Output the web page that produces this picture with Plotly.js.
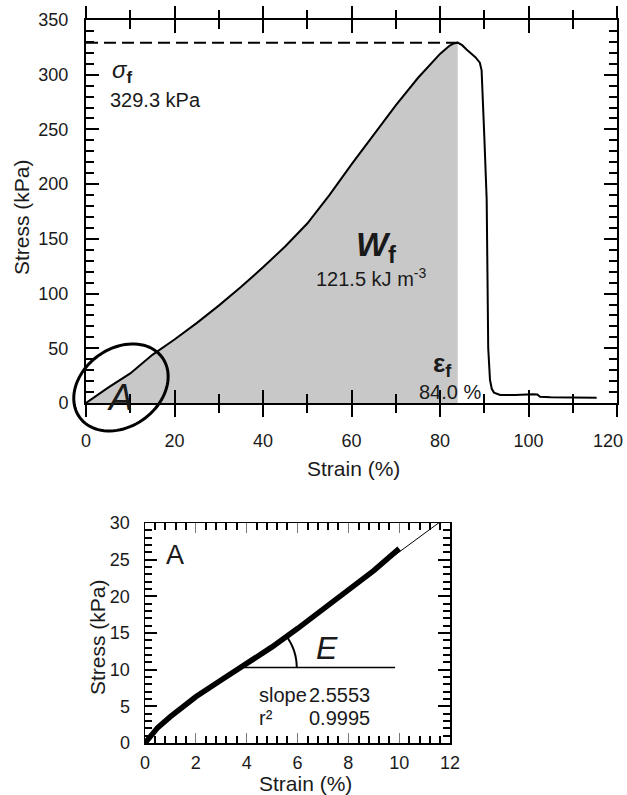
<!DOCTYPE html>
<html><head><meta charset="utf-8">
<script src="https://cdn.plot.ly/plotly-3.0.1.min.js"></script>
<style>html,body{margin:0;padding:0;background:#fff}</style>
</head><body><div id="chart" style="width:627px;height:795px"></div>
<script>
// ---- Data ----
const strain = [0, 5, 10, 15, 20, 25, 30, 35, 40, 45, 50, 55, 60, 65, 70, 75, 78, 80, 82, 83, 84, 85, 86, 88, 89, 89.4, 90.0, 90.55, 90.9, 91.3, 91.7, 92.2, 93.6, 97, 101, 102, 102.6, 105, 110, 115.4];
const stress = [0, 14, 27, 44, 58, 73, 89, 106, 124, 143, 164, 190, 218, 245, 272, 297, 310, 319, 326, 328.5, 329.3, 327, 323, 316, 311, 304, 245, 186, 50, 21, 13, 9.5, 7.3, 7.2, 7.9, 7.8, 5.8, 5.2, 5.0, 4.9];
const failStrain = 84.0;   // %
const failStress = 329.3;  // kPa

const inStrain = [0, 0.25, 0.5, 1, 1.5, 2, 3, 4, 5, 6, 7, 8, 9, 9.5, 10];
const inStress = [0, 1.2, 2.1, 3.6, 5.0, 6.3, 8.6, 10.8, 13.1, 15.6, 18.2, 20.8, 23.5, 25.0, 26.5];
const fitSlope = 2.5553;
const fitIntercept = 0.49;
const fitR2 = 0.9995;
const fitX = [3.9, 12];
const angleStrain = 3.9, angleStress = 10.3, angleLineEnd = 9.84;

const topXTickVals = [0, 20, 40, 60, 80, 100, 120];
const topXTickText = ['0', '20', '40', '60', '80', '100', '120'];

// ---- Layout geometry (pixels) ----
const W = 627, H = 795;
const topP = {l: 86, r: 617, t: 20, b: 403, xr: [0, 120], yr: [0, 350]};
const botP = {l: 145, r: 450, t: 523, b: 743, xr: [0, 12], yr: [0, 30]};
const FONT = '"Liberation Sans", Arial, sans-serif';
const TXT = '#1a1a1a';

function dom(p) {
  return {x: [p.l / W, p.r / W], y: [1 - p.b / H, 1 - p.t / H]};
}
const dTop = dom(topP), dBot = dom(botP);
function pxPerX(p) { return (p.r - p.l) / (p.xr[1] - p.xr[0]); }
function pxPerY(p) { return (p.b - p.t) / (p.yr[1] - p.yr[0]); }

function ellipsePaperPath(p, cx, cy, a, b, deg) {
  const th = deg * Math.PI / 180;
  const pcx = p.l + (cx - p.xr[0]) * pxPerX(p);
  const pcy = p.b - (cy - p.yr[0]) * pxPerY(p);
  let d = '';
  for (let i = 0; i <= 90; i++) {
    const t = i / 90 * 2 * Math.PI;
    const dx = a * Math.cos(th) * Math.cos(t) - b * Math.sin(th) * Math.sin(t);
    const dy = a * Math.sin(th) * Math.cos(t) + b * Math.cos(th) * Math.sin(t);
    d += (i ? ' L ' : 'M ') + ((pcx + dx) / W).toFixed(5) + ',' + (1 - (pcy - dy) / H).toFixed(5);
  }
  return d + ' Z';
}
function arcPath(p, cx, cy, r, deg0, deg1) {
  const sx = pxPerX(p), sy = pxPerY(p);
  let d = '';
  for (let i = 0; i <= 30; i++) {
    const t = (deg0 + (deg1 - deg0) * i / 30) * Math.PI / 180;
    d += (i ? ' L ' : 'M ') + (cx + r * Math.cos(t) / sx).toFixed(4) + ',' + (cy + r * Math.sin(t) / sy).toFixed(4);
  }
  return d;
}

const fillX = [], fillY = [];
strain.forEach((s, i) => { if (s <= failStrain) { fillX.push(s); fillY.push(stress[i]); } });

const fitY = fitX.map(x => fitSlope * x + fitIntercept);
const fitAngle = Math.atan(fitSlope * pxPerY(botP) / pxPerX(botP)) * 180 / Math.PI;

// the last bottom label sits at the page edge: draw it right-aligned so it stays inside
const lastIdx = topXTickVals.length - 1;
const axisTickText = topXTickText.map((t, i) => i === lastIdx ? '' : t);

const traces = [
  {x: fillX, y: fillY, xaxis: 'x', yaxis: 'y', type: 'scatter', mode: 'lines', fill: 'tozeroy',
   fillcolor: '#c8c8c8', line: {width: 0, color: 'rgba(0,0,0,0)'}},
  {x: strain, y: stress, xaxis: 'x', yaxis: 'y', type: 'scatter', mode: 'lines',
   line: {color: '#000', width: 2}},
  {x: [], y: [], xaxis: 'x3', yaxis: 'y3', type: 'scatter', mode: 'lines'},
  {x: [], y: [], xaxis: 'x4', yaxis: 'y4', type: 'scatter', mode: 'lines'},
  {x: fitX, y: fitY, xaxis: 'x2', yaxis: 'y2', type: 'scatter', mode: 'lines',
   line: {color: '#000', width: 1}},
  {x: inStrain, y: inStress, xaxis: 'x2', yaxis: 'y2', type: 'scatter', mode: 'lines',
   line: {color: '#000', width: 5.5}}
];

const tf = {family: FONT, size: 18, color: TXT};
const base = {showgrid: false, zeroline: false, showline: true, linecolor: '#000', mirror: 'ticks', ticklabeloverflow: 'allow'};
const layout = {
  width: W, height: H, margin: {l: 0, r: 0, t: 0, b: 0},
  paper_bgcolor: '#fff', plot_bgcolor: 'rgba(0,0,0,0)', showlegend: false,
  font: {family: FONT, color: TXT},
  xaxis: Object.assign({}, base, {domain: dTop.x, anchor: 'y', range: topP.xr, linewidth: 2,
    ticks: 'inside', tickmode: 'array', tickvals: topXTickVals, ticktext: axisTickText,
    ticklen: 13, tickwidth: 2, tickcolor: '#000',
    minor: {dtick: 10, tick0: 0, ticks: 'inside', ticklen: 9, tickwidth: 2, tickcolor: '#000', showgrid: false},
    tickfont: tf, ticklabelstandoff: 20}),
  yaxis: Object.assign({}, base, {domain: dTop.y, anchor: 'x', range: topP.yr, linewidth: 2,
    ticks: 'inside', dtick: 50, tick0: 0, ticklen: 13, tickwidth: 2, tickcolor: '#000',
    minor: {dtick: 10, ticks: 'inside', ticklen: 8, tickwidth: 2, tickcolor: '#000', showgrid: false},
    tickfont: tf, ticklabelstandoff: 12}),
  xaxis3: Object.assign({}, base, {domain: dTop.x, anchor: 'y3', side: 'top', range: topP.xr, linewidth: 2,
    showticklabels: false, ticks: 'outside', dtick: 20, tick0: 0, ticklen: 12, tickwidth: 2, tickcolor: '#000',
    minor: {dtick: 10, ticks: 'outside', ticklen: 8, tickwidth: 2, tickcolor: '#000', showgrid: false}}),
  yaxis3: Object.assign({}, base, {domain: dTop.y, anchor: 'x3', side: 'right', range: topP.yr, linewidth: 2,
    showticklabels: false, ticks: 'inside', dtick: 50, tick0: 0, ticklen: 13, tickwidth: 2, tickcolor: '#000',
    minor: {dtick: 10, ticks: 'inside', ticklen: 8, tickwidth: 2, tickcolor: '#000', showgrid: false}}),
  xaxis2: Object.assign({}, base, {domain: dBot.x, anchor: 'y2', range: botP.xr, linewidth: 1.5,
    ticks: 'inside', dtick: 2, tick0: 0, ticklen: 10, tickwidth: 1, tickcolor: '#777',
    minor: {dtick: 0.4, ticks: 'inside', ticklen: 7, tickwidth: 2, tickcolor: '#000', showgrid: false},
    tickfont: tf, ticklabelstandoff: 3}),
  yaxis2: Object.assign({}, base, {domain: dBot.y, anchor: 'x2', range: botP.yr, linewidth: 1.5,
    ticks: 'inside', dtick: 5, tick0: 0, ticklen: 12, tickwidth: 2, tickcolor: '#000',
    minor: {dtick: 1, ticks: 'inside', ticklen: 7, tickwidth: 2, tickcolor: '#000', showgrid: false},
    tickfont: tf, ticklabelstandoff: 10}),
  xaxis4: Object.assign({}, base, {domain: dBot.x, anchor: 'y4', side: 'top', range: botP.xr, linewidth: 1.5,
    showticklabels: false, ticks: 'inside', dtick: 2, tick0: 0, ticklen: 10, tickwidth: 1, tickcolor: '#777',
    minor: {dtick: 0.4, ticks: 'inside', ticklen: 7, tickwidth: 2, tickcolor: '#000', showgrid: false}}),
  yaxis4: Object.assign({}, base, {domain: dBot.y, anchor: 'x4', side: 'right', range: botP.yr, linewidth: 1.5,
    showticklabels: false, ticks: 'inside', dtick: 5, tick0: 0, ticklen: 12, tickwidth: 2, tickcolor: '#000',
    minor: {dtick: 1, ticks: 'inside', ticklen: 7, tickwidth: 2, tickcolor: '#000', showgrid: false}}),
  shapes: [
    {type: 'line', xref: 'x', yref: 'y', x0: 0, x1: failStrain, y0: failStress, y1: failStress,
     line: {color: '#000', width: 2, dash: '12px,6px'}},
    {type: 'path', xref: 'paper', yref: 'paper', path: ellipsePaperPath(topP, 7.9, 14.2, 51, 39, 36),
     line: {color: '#000', width: 3}},
    {type: 'line', xref: 'x2', yref: 'y2', x0: angleStrain, x1: angleLineEnd, y0: angleStress, y1: angleStress,
     line: {color: '#000', width: 1.5}},
    {type: 'path', xref: 'x2', yref: 'y2', path: arcPath(botP, angleStrain, angleStress, 52.6, 0, fitAngle),
     line: {color: '#000', width: 2}}
  ],
  annotations: [
    {xref: 'paper', yref: 'paper', x: 625 / W, y: 1 - 441 / H, text: topXTickText[lastIdx], showarrow: false,
     font: tf, xanchor: 'right', yanchor: 'middle'},
    {xref: 'paper', yref: 'paper', x: 354 / W, y: 1 - 468 / H, text: 'Strain (%)', showarrow: false,
     font: {size: 21, family: FONT, color: TXT}, xanchor: 'center', yanchor: 'middle'},
    {xref: 'paper', yref: 'paper', x: 22 / W, y: 1 - 217 / H, text: 'Stress (kPa)', showarrow: false,
     textangle: -90, font: {size: 21, family: FONT, color: TXT}, xanchor: 'center', yanchor: 'middle'},
    {xref: 'paper', yref: 'paper', x: 305 / W, y: 1 - 783 / H, text: 'Strain (%)', showarrow: false,
     font: {size: 21, family: FONT, color: TXT}, xanchor: 'center', yanchor: 'middle'},
    {xref: 'paper', yref: 'paper', x: 97 / W, y: 1 - 637 / H, text: 'Stress (kPa)', showarrow: false,
     textangle: -90, font: {size: 21, family: FONT, color: TXT}, xanchor: 'center', yanchor: 'middle'},
    {xref: 'x', yref: 'y', x: 5.4, y: 303, text: '<i>σ</i><b><sub>f</sub></b>', showarrow: false,
     font: {size: 24, family: FONT, color: TXT}, xanchor: 'left', yanchor: 'middle'},
    {xref: 'x', yref: 'y', x: 4.9, y: 277, text: '329.3 kPa', showarrow: false,
     font: {size: 20, family: FONT, color: TXT}, xanchor: 'left', yanchor: 'middle'},
    {xref: 'x', yref: 'y', x: 65.5, y: 143, text: '<b><i>W</i><sub>f</sub></b>', showarrow: false,
     font: {size: 34, family: FONT, color: TXT}, xanchor: 'center', yanchor: 'middle'},
    {xref: 'x', yref: 'y', x: 64.5, y: 115, text: '121.5 kJ m<sup>-3</sup>', showarrow: false,
     font: {size: 20, family: FONT, color: TXT}, xanchor: 'center', yanchor: 'middle'},
    {xref: 'x', yref: 'y', x: 80.6, y: 35, text: '<b>ε<sub>f</sub></b>', showarrow: false,
     font: {size: 26, family: FONT, color: TXT}, xanchor: 'center', yanchor: 'middle'},
    {xref: 'x', yref: 'y', x: 82.3, y: 10, text: '84.0 %', showarrow: false,
     font: {size: 20, family: FONT, color: TXT}, xanchor: 'center', yanchor: 'middle'},
    {xref: 'x', yref: 'y', x: 7.7, y: 4.6, text: '<i>A</i>', showarrow: false,
     font: {size: 36, family: FONT, color: TXT}, xanchor: 'center', yanchor: 'middle'},
    {xref: 'x2', yref: 'y2', x: 1.18, y: 25.6, text: 'A', showarrow: false,
     font: {size: 27, family: FONT, color: TXT}, xanchor: 'center', yanchor: 'middle'},
    {xref: 'x2', yref: 'y2', x: 7.15, y: 13.0, text: '<i>E</i>', showarrow: false,
     font: {size: 32, family: FONT, color: TXT}, xanchor: 'center', yanchor: 'middle'},
    {xref: 'x2', yref: 'y2', x: 4.39, y: 6.55, text: 'slope', showarrow: false,
     font: {size: 20, family: FONT, color: TXT}, xanchor: 'left', yanchor: 'middle'},
    {xref: 'x2', yref: 'y2', x: 8.92, y: 6.55, text: fitSlope.toFixed(4), showarrow: false,
     font: {size: 20, family: FONT, color: TXT}, xanchor: 'right', yanchor: 'middle'},
    {xref: 'x2', yref: 'y2', x: 4.39, y: 3.4, text: 'r²', showarrow: false,
     font: {size: 20, family: FONT, color: TXT}, xanchor: 'left', yanchor: 'middle'},
    {xref: 'x2', yref: 'y2', x: 8.92, y: 3.4, text: fitR2.toFixed(4), showarrow: false,
     font: {size: 20, family: FONT, color: TXT}, xanchor: 'right', yanchor: 'middle'}
  ]
};

Plotly.newPlot('chart', traces, layout, {staticPlot: true, displayModeBar: false});
</script>
</body></html>
